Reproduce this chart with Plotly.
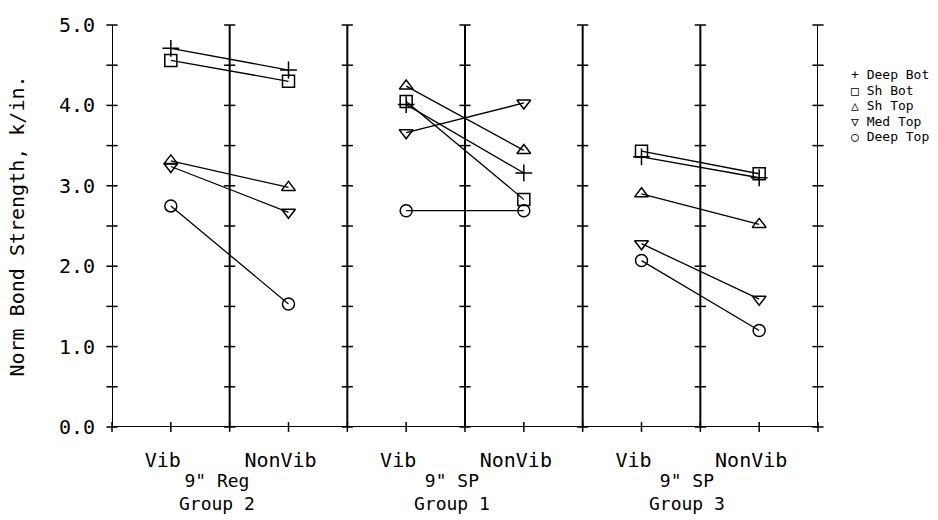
import plotly.graph_objects as go

# ---- data ----
x_pos = [0.5, 1.5, 2.5, 3.5, 4.5, 5.5]
cat_labels = ["Vib", "NonVib", "Vib", "NonVib", "Vib", "NonVib"]
group_centers = [1, 3, 5]
group_line1 = ['9" Reg', '9" SP', '9" SP']
group_line2 = ["Group 2", "Group 1", "Group 3"]

deep_bot = [4.71, 4.44, 4.01, 3.16, 3.36, 3.10]
sh_bot = [4.56, 4.30, 4.05, 2.83, 3.43, 3.15]
sh_top = [3.31, 2.98, 4.24, 3.44, 2.90, 2.52]
med_top = [3.24, 2.67, 3.66, 4.03, 2.28, 1.59]
deep_top = [2.75, 1.53, 2.69, 2.69, 2.07, 1.20]

series_names = ["Deep Bot", "Sh Bot", "Sh Top", "Med Top", "Deep Top"]
series_vals = [deep_bot, sh_bot, sh_top, med_top, deep_top]
series_symbols = ["cross-thin-open", "square-open", "triangle-up-open",
                  "triangle-down-open", "circle-open"]
legend_glyphs = ["+", "\u25a1", "\u25b3", "\u25bd", "\u25cb"]

divider_x = [0, 1, 2, 3, 4, 5, 6]
y_minor = [0.0, 0.5, 1.0, 1.5, 2.0, 2.5, 3.0, 3.5, 4.0, 4.5, 5.0]
x_minor = [0.0, 0.5, 1.0, 1.5, 2.0, 2.5, 3.0, 3.5, 4.0, 4.5, 5.0, 5.5, 6.0]
y_major = [0, 1, 2, 3, 4, 5]
y_major_text = ["0.0", "1.0", "2.0", "3.0", "4.0", "5.0"]

FONT = "DejaVu Sans Mono"

fig = go.Figure()

# vertical divider lines with tick marks
for xv in divider_x:
    fig.add_trace(go.Scatter(x=[xv, xv], y=[y_minor[0], y_minor[-1]], mode="lines",
                             line=dict(color="black", width=2), showlegend=False,
                             hoverinfo="skip", cliponaxis=False))
    fig.add_trace(go.Scatter(x=[xv] * len(y_minor), y=y_minor, mode="markers",
                             marker=dict(symbol="line-ew", size=8,
                                         line=dict(color="black", width=1.5)),
                             showlegend=False, hoverinfo="skip", cliponaxis=False))

# bottom axis line with ticks
fig.add_trace(go.Scatter(x=[x_minor[0], x_minor[-1]], y=[0, 0], mode="lines",
                         line=dict(color="black", width=2), showlegend=False,
                         hoverinfo="skip", cliponaxis=False))
fig.add_trace(go.Scatter(x=x_minor, y=[0] * len(x_minor), mode="markers",
                         marker=dict(symbol="line-ns", size=7,
                                     line=dict(color="black", width=1.5)),
                         showlegend=False, hoverinfo="skip", cliponaxis=False))

# data series: pairs per group
for name, vals, sym in zip(series_names, series_vals, series_symbols):
    xs, ys = [], []
    for i in range(0, 6, 2):
        xs += [x_pos[i], x_pos[i + 1], None]
        ys += [vals[i], vals[i + 1], None]
    fig.add_trace(go.Scatter(x=xs, y=ys, mode="lines+markers", name=name,
                             line=dict(color="black", width=1.3),
                             marker=dict(symbol=sym, size=12, color="black",
                                         line=dict(color="black", width=1.5)),
                             showlegend=False, cliponaxis=False))

annotations = []
# group labels (two lines in one text block)
for gx, l1, l2 in zip(group_centers, group_line1, group_line2):
    annotations.append(dict(x=gx, y=(427.5 - 470) / 403, xref="x", yref="paper",
                            text=l1 + "<br>" + l2, showarrow=False, xshift=-13,
                            yanchor="top", align="center", borderpad=0,
                            font=dict(family=FONT, size=18, color="black")))

# legend as text entries
for k, (g, name) in enumerate(zip(legend_glyphs, series_names)):
    annotations.append(dict(x=1.0, y=1 - (75 + 15.5 * k - 25) / 403, xref="paper", yref="paper",
                            text=g + " " + name, showarrow=False, xanchor="left",
                            yanchor="middle", xshift=31,
                            font=dict(family=FONT, size=13, color="black")))

fig.update_layout(
    width=938, height=520,
    margin=dict(l=112, r=120, t=25, b=92.5),
    paper_bgcolor="white", plot_bgcolor="white",
    showlegend=False,
    annotations=annotations,
    font=dict(family=FONT, color="black"),
    xaxis=dict(range=[0, 6], showgrid=False, zeroline=False, showline=False,
               tickvals=x_pos, ticktext=cat_labels, ticks="",
               tickfont=dict(family=FONT, size=20, color="black"),
               ticklabelstandoff=19, ticklabelshift=-8),
    yaxis=dict(range=[0, 5], showgrid=False, zeroline=False, showline=False,
               tickvals=y_major, ticktext=y_major_text, ticks="",
               tickfont=dict(family=FONT, size=20, color="black"),
               ticklabelstandoff=16,
               title=dict(text="Norm Bond Strength, k/in.", standoff=28,
                          font=dict(family=FONT, size=20, color="black"))),
)

fig.write_html("out.html")
